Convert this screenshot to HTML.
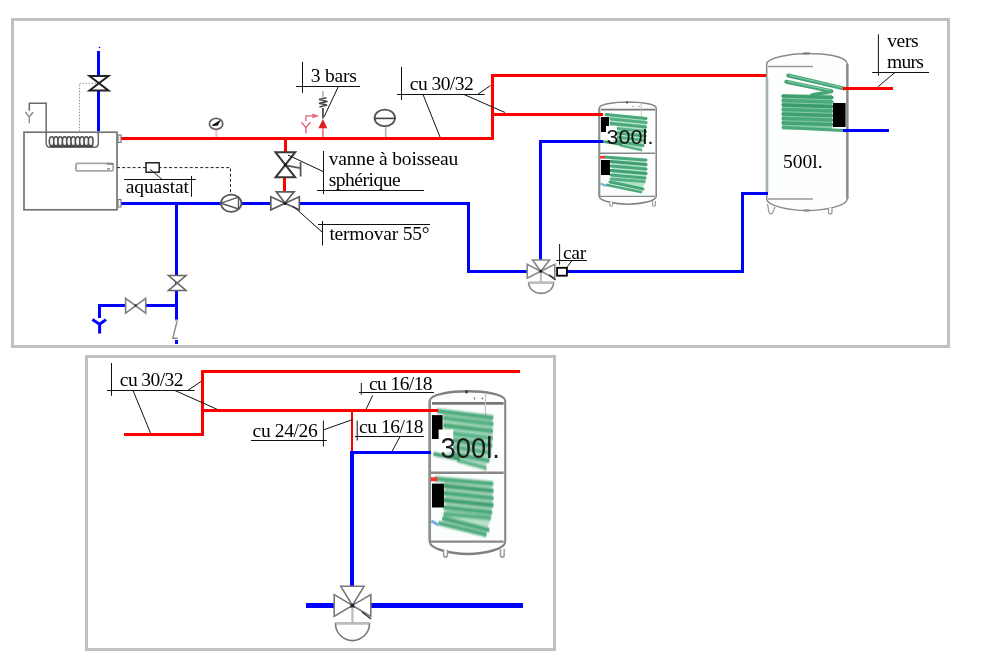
<!DOCTYPE html>
<html><head><meta charset="utf-8">
<style>
html,body{margin:0;padding:0;background:#fff;}
body{width:999px;height:668px;overflow:hidden;}
svg{display:block;will-change:transform;}
text{font-family:"Liberation Serif",serif;font-size:19.5px;fill:#000;}
.s{font-family:"Liberation Sans",sans-serif;font-size:20.5px;fill:#111;}
</style></head><body>
<svg width="999" height="668" viewBox="0 0 999 668">
<defs>
<filter id="bl" x="-20%" y="-20%" width="140%" height="140%"><feGaussianBlur stdDeviation="0.6"/></filter>
<!-- small tank (300 l) drawn at frame-1 position -->
<g id="tk">
  <path d="M599.3 196.5V108C599.5 104 615 102 628 102C641 102 656 104 656.2 108V196.5C656 201 641 204.2 628 204.2C615 204.2 599.5 201 599.3 196.5Z" fill="#fcfdfd" stroke="#808080" stroke-width="1.5"/>
  <path d="M599.3 108V196.5" stroke="#8a948f" stroke-width="2"/>
  <path d="M601 109.6H655" stroke="#777" stroke-width="1.6"/>
  <path d="M600 153.2H655" stroke="#888" stroke-width="1.5"/>
  <path d="M600 196.4H655" stroke="#888" stroke-width="1.4"/>
  <path d="M641.3 103V153" stroke="#c4c4c4" stroke-width="0.9"/>
  <circle cx="627" cy="102.4" r="1" fill="#333"/>
  <circle cx="633" cy="106.5" r="0.6" fill="#666"/>
  <circle cx="639" cy="106.5" r="0.6" fill="#666"/>
  <path d="M609.8 201.5V205.4Q611.2 207 612.6 205.4V201.5 M652.6 201V205.4Q654 207 655.4 205.4V201" fill="#fff" stroke="#999" stroke-width="1.1"/>
  <!-- upper coil -->
  <g fill="none" stroke-linecap="round" filter="url(#bl)">
    <path d="M609 115L646 117V143L640 150L618 145L611 139Z" fill="#b5e2cb" stroke="none"/>
    <path d="M606 114.5L646 118.5" stroke="#4aa97a" stroke-width="3"/>
    <path d="M611 119L646 122.5" stroke="#53b083" stroke-width="3.2"/>
    <path d="M611 123.5L646 127" stroke="#4aa97a" stroke-width="3.2"/>
    <path d="M611 128L646 131.5" stroke="#5ab488" stroke-width="3.2"/>
    <path d="M614 132.5L645 136" stroke="#4aa97a" stroke-width="3.2"/>
    <path d="M616 137L644 140.5" stroke="#55b085" stroke-width="3"/>
    <path d="M618 141.5L643 145.5" stroke="#4aa97a" stroke-width="3"/>
    <path d="M621 145.5L641 150" stroke="#5ab488" stroke-width="2.6"/>
    <path d="M603 141.5L621 144.5" stroke="#3e9a6a" stroke-width="2.4"/>
  </g>
  <!-- lower coil -->
  <g fill="none" stroke-linecap="round" filter="url(#bl)">
    <path d="M611 158L646 159.5V182L641 190L612 181Z" fill="#b5e2cb" stroke="none"/>
    <path d="M604 157L646 160" stroke="#4aa97a" stroke-width="3"/>
    <path d="M611 161.5L646 164.5" stroke="#3f9f70" stroke-width="3.2"/>
    <path d="M611 166L646 169" stroke="#4aa97a" stroke-width="3.2"/>
    <path d="M611 170.5L646 173.5" stroke="#3f9f70" stroke-width="3.2"/>
    <path d="M611 175L645 178" stroke="#4aa97a" stroke-width="3.2"/>
    <path d="M611 179L644 181.5" stroke="#55b085" stroke-width="3"/>
    <path d="M610 182L643 189" stroke="#46a574" stroke-width="3"/>
    <path d="M607 185L641 192" stroke="#4aa97a" stroke-width="2.8"/>
  </g>
  <path d="M600.5 183.5L606 186" stroke="#7ab0e8" stroke-width="2"/>
  <rect x="600" y="156" width="5" height="2.5" fill="#f33"/>
  <rect x="601" y="117" width="8" height="15" fill="#000"/>
  <rect x="601" y="160" width="9" height="15" fill="#000"/>
  <rect x="606" y="126" width="11" height="14" fill="#fff"/>
  <rect x="647" y="126" width="7" height="14" fill="#fff"/>
</g>
</defs>

<!-- frames -->
<rect x="12.5" y="19.5" width="936" height="327" fill="none" stroke="#c0c0c0" stroke-width="3"/>
<rect x="86.5" y="356.5" width="468" height="293" fill="none" stroke="#c0c0c0" stroke-width="3"/>

<!-- ========== small tank 1 (300l) ========== -->
<use href="#tk"/>
<!-- ========== big tank 500l ========== -->
<g id="tank2">
  <path d="M766.7 199V64C767 58 790 53.6 806.6 53.6C825 53.6 846.5 56 847.3 64V199C846.5 206 825 210.5 806.6 210.5C790 210.5 767 206 766.7 199Z" fill="#fdfefe" stroke="#8a8a8a" stroke-width="1.5"/>
  <path d="M847.4 64V199" stroke="#8a8a8a" stroke-width="2.4"/>
  <rect x="803" y="52.6" width="7" height="2" rx="1" fill="#777"/>
  <rect x="803" y="209.4" width="7" height="2" rx="1" fill="#888"/>
  <path d="M768 66.5H813 M768 199H813" stroke="#999" stroke-width="1.4"/>
  <path d="M767 77.7V193" stroke="#a3b3ab" stroke-width="2.6"/>
  <path d="M767.5 204L769 212.5Q770.5 215 772.5 213L775 207 M828.5 208V213Q830.3 215 832 213V207.5" fill="#fff" stroke="#999" stroke-width="1.2"/>
  
  <!-- coil -->
  <g fill="none" stroke-linecap="round" filter="url(#bl)">
    <rect x="782" y="94.5" width="50" height="35" fill="#86c9a6" stroke="none"/>
    <path d="M788.3 75.5L843.6 88.4" stroke="#45a474" stroke-width="4"/>
    <path d="M786.3 81.7L831.4 91.1" stroke="#45a474" stroke-width="4"/>
    <path d="M831 91.5L812 95" stroke="#45a474" stroke-width="3.5"/>
    <path d="M790 75.5L842 87.5 M788 81.5L830 90.3" stroke="#9ad6b8" stroke-width="0.8"/>
    <path d="M783 96L832 97.5" stroke="#3f9f70" stroke-width="3.4"/>
    <path d="M783 100.5L832 102" stroke="#4aa97a" stroke-width="3.4"/>
    <path d="M783 105L832 106.5" stroke="#3a9a6a" stroke-width="3.4"/>
    <path d="M783 109.5L832 111" stroke="#4aa97a" stroke-width="3.4"/>
    <path d="M783 114L832 115.5" stroke="#3f9f70" stroke-width="3.4"/>
    <path d="M783 118.5L832 120" stroke="#4aa97a" stroke-width="3.4"/>
    <path d="M783 123L832 124.5" stroke="#45a475" stroke-width="3.4"/>
    <path d="M783 127.5L843 130.5" stroke="#4aa97a" stroke-width="3"/>
  </g>
  <rect x="833" y="103" width="12.6" height="24" fill="#000"/>
</g>
<!-- ========== tank 3 (frame2 300l) ========== -->
<use href="#tk" transform="translate(-365.54 228.88) scale(1.327 1.592)"/>
<text class="s" x="606.6" y="144" textLength="46.8" lengthAdjust="spacingAndGlyphs">300l.</text>
<text class="s" x="440.6" y="458" style="font-size:30px;fill:#1a1a1a" textLength="59.2" lengthAdjust="spacingAndGlyphs">300l.</text>

<!-- ========== FRAME 1 PIPES ========== -->
<g fill="none" stroke-linecap="butt" stroke-linejoin="miter" shape-rendering="crispEdges">
  <!-- red -->
  <path d="M120 138.5H492.5V75.5H766" stroke="#f00" stroke-width="3"/>
  <path d="M493 114.5H603" stroke="#f00" stroke-width="3"/>
  <path d="M843 88.5H893" stroke="#f00" stroke-width="3"/>
  <path d="M285.2 139V152 M284.6 177V191.5" stroke="#f00" stroke-width="3"/>
  <!-- blue -->
  <path d="M98.5 51V131" stroke="#00f" stroke-width="3"/>
  <path d="M120 203.5H468.5V271.5H526.5" stroke="#00f" stroke-width="3"/>
  <path d="M567 271.5H742.5V193.5H767.5" stroke="#00f" stroke-width="3"/>
  <path d="M540.5 259.5V141.5H603" stroke="#00f" stroke-width="3"/>
  <path d="M843 130.5H889" stroke="#00f" stroke-width="3"/>
  <path d="M176.5 203V319.5 M176.5 339.5V343.5" stroke="#00f" stroke-width="3"/>
  <path d="M176 305.8H99.6V318" stroke="#00f" stroke-width="3"/>
</g>
<!-- blue Y drain -->
<path d="M99.6 323V333.5 M92.4 319.6L99.6 324.2L106 319.6" stroke="#00f" stroke-width="3" fill="none"/>
<circle cx="99.5" cy="47.5" r="0.8" fill="#00f"/>
<!-- drain valves -->
<path d="M168.5 275.5H186L168.5 290.5H186Z" fill="#fff" stroke="#666" stroke-width="1.6"/>
<path d="M125.6 298.3V313.2L145.7 298.3V313.2Z" fill="#fff" stroke="#808080" stroke-width="1.6"/><circle cx="135.6" cy="305.8" r="1.2" fill="#444"/>
<path d="M177 321.5L172.8 338.3H177.5" fill="none" stroke="#8a8a8a" stroke-width="1.4"/><rect x="175" y="319.5" width="3.2" height="2" fill="#b8bccc"/>

<!-- top-left valve (vertical hourglass) -->
<path d="M89.5 76H108.5L89.5 90.5H108.5Z" fill="#fff" stroke="#222" stroke-width="2" stroke-linejoin="miter"/>
<!-- dotted line from valve to boiler -->
<path d="M96 83.2H79.5V131" fill="none" stroke="#999" stroke-width="1.1" stroke-dasharray="1.5,1.5"/>

<!-- boiler -->
<rect x="24" y="132.2" width="93" height="77.6" fill="#fff" stroke="#767676" stroke-width="1.7"/>
<!-- Y pipe on top-left -->
<path d="M29.3 110.7V103.2H46.2V143Q46.2 147.2 50 147.2H95Q98.3 147.2 98.3 143V131" fill="none" stroke="#6a6a6a" stroke-width="1.5"/>
<path d="M25.3 112L29.3 117L33.2 112 M29.3 117V123.3" fill="none" stroke="#888" stroke-width="1.3"/>
<!-- coil -->
<rect x="49.5" y="137" width="44" height="9.5" fill="#b8b8b8"/>
<g fill="#f2f2f2" stroke="#505050" stroke-width="1.5">
  <ellipse cx="51.6" cy="141.3" rx="2.3" ry="4.6"/>
  <ellipse cx="56.0" cy="141.3" rx="2.3" ry="4.6"/>
  <ellipse cx="60.3" cy="141.3" rx="2.3" ry="4.6"/>
  <ellipse cx="64.7" cy="141.3" rx="2.3" ry="4.6"/>
  <ellipse cx="69.0" cy="141.3" rx="2.3" ry="4.6"/>
  <ellipse cx="73.3" cy="141.3" rx="2.3" ry="4.6"/>
  <ellipse cx="77.7" cy="141.3" rx="2.3" ry="4.6"/>
  <ellipse cx="82.0" cy="141.3" rx="2.3" ry="4.6"/>
  <ellipse cx="86.4" cy="141.3" rx="2.3" ry="4.6"/>
  <ellipse cx="90.7" cy="141.3" rx="2.3" ry="4.6"/>
  <path d="M50 146.2H93" stroke="#444" stroke-width="1.6"/>
</g>
<!-- connectors -->
<rect x="118" y="135" width="3" height="7.5" fill="#f4f4f4" stroke="#777" stroke-width="1.1"/>
<rect x="118" y="199.5" width="3" height="7.5" fill="#f4f4f4" stroke="#777" stroke-width="1.1"/>
<!-- sensor -->
<rect x="76" y="163.3" width="37.2" height="7.6" rx="1.2" fill="#fff" stroke="#a6a6a6" stroke-width="1.8"/>
<path d="M107 164H113.5" stroke="#808080" stroke-width="1.6"/>
<path d="M107 168.9H110" stroke="#888" stroke-width="1.4"/>
<!-- aquastat dashed -->
<path d="M117 167.6H230.5V194" fill="none" stroke="#222" stroke-width="1" stroke-dasharray="3,2.2"/>
<rect x="146" y="162.8" width="13.2" height="9.4" fill="#fff" stroke="#111" stroke-width="1.4"/>
<path d="M150 169.2L162 179.4" stroke="#222" stroke-width="1"/>
<path d="M124 179.5H195.8 M191.5 176V196.8" stroke="#111" stroke-width="1" fill="none"/>
<text x="125.8" y="193" textLength="63.1" lengthAdjust="spacing">aquastat</text>

<!-- pump -->
<ellipse cx="231.2" cy="203.2" rx="10.2" ry="8.6" fill="#fff" stroke="#555" stroke-width="1.7"/>
<path d="M238.5 197.2L221 203.2L238.5 209 M238.5 196.8V209.5" fill="none" stroke="#555" stroke-width="1.4"/>

<!-- gauge -->
<path d="M216.3 130V137" stroke="#f0c4c4" stroke-width="2"/>
<ellipse cx="216.1" cy="123.9" rx="6.7" ry="5.5" fill="#fff" stroke="#6a6a6a" stroke-width="1.8"/>
<path d="M212.5 125.5L219.5 121.2L217.5 125Z" fill="#111" stroke="#111" stroke-width="1.2"/>

<!-- safety valve -->
<path d="M322.9 128V137" stroke="#e66" stroke-width="1.5"/>
<path d="M318.4 128.2L322.9 119.1L327.3 128.2Z" fill="#dd2020"/>
<path d="M322.9 118.5V108" stroke="#505050" stroke-width="1.8"/>
<path d="M319.5 107L327 105L319 103.2L327.5 101.4L319 99.6L326.5 97.8" fill="none" stroke="#484848" stroke-width="1.5"/>
<path d="M322.9 97.5V91.2" stroke="#999" stroke-width="1.2"/>
<path d="M301.5 122.3L305.9 127.6L310.3 122.3 M305.9 127.6V133.6" fill="none" stroke="#e2687a" stroke-width="1.4"/>
<path d="M305.9 121V115.9H313" fill="none" stroke="#e2687a" stroke-width="1.4"/>
<path d="M312.4 113.5L319.2 115.9L312.4 118.3Z" fill="#e2687a"/>
<!-- 3 bars label -->
<path d="M302.5 62V92.8 M296 86.5H360 M338.4 86.5L324 117" stroke="#111" stroke-width="1" fill="none"/>
<text x="310.8" y="82.4" textLength="46.1" lengthAdjust="spacing">3 bars</text>

<!-- expansion vessel -->
<path d="M385.7 127V137" stroke="#aab" stroke-width="1.5"/>
<ellipse cx="384.8" cy="117.9" rx="10.2" ry="8.3" fill="#fff" stroke="#555" stroke-width="1.8"/>
<path d="M374.5 118.4H395.5" stroke="#444" stroke-width="1.6"/>

<!-- cu 30/32 frame1 -->
<path d="M401.5 67V100 M397 94.5H484.5 M423 94.5L440 137 M464 94.5L505 112.5 M477.5 94.5L490.5 85.5" stroke="#111" stroke-width="1" fill="none"/>
<text x="409.8" y="90" textLength="63.9" lengthAdjust="spacing">cu 30/32</text>

<!-- ball valve (vertical) -->
<path d="M275.4 152.2H295.2L275.6 177.3H295.2Z" fill="#fff" stroke="#3a3a3a" stroke-width="2" stroke-linejoin="miter"/>
<path d="M285.4 165.4L300.5 168.2 M300.6 162V176.4" stroke="#555" stroke-width="1.8" fill="none"/>
<circle cx="285.4" cy="165" r="1.5" fill="#111"/>
<!-- vanne label -->
<path d="M323.5 151V194 M317 190.5H424 M288 155L323 171.5" stroke="#111" stroke-width="1" fill="none"/>
<text x="328.7" y="165" textLength="129.5" lengthAdjust="spacing">vanne à boisseau</text>
<text x="328.7" y="186" textLength="72" lengthAdjust="spacing">sphérique</text>

<!-- termovar 3-way valve -->
<g fill="#fff" stroke="#5e5e5e" stroke-width="1.7" stroke-linejoin="miter">
  <path d="M276.3 191.8H294.1L285 203Z"/>
  <path d="M270.8 196.8V209.8L285 203.2Z"/>
  <path d="M299.3 196.8V209.8L285 203.2Z"/>
</g>
<circle cx="285" cy="203.2" r="1.5" fill="#222"/>
<path d="M322.5 221V245.5 M318 224.5H430 M293 206L322 232" stroke="#111" stroke-width="1" fill="none"/>
<text x="329.4" y="240" textLength="100.2" lengthAdjust="spacing">termovar 55°</text>

<!-- car 3-way valve + actuator -->
<g fill="#fff" stroke="#888" stroke-width="1.6" stroke-linejoin="miter">
  <path d="M532.5 260H549.5L540.8 271.3Z"/>
  <path d="M527.2 264.2V278.3L540.8 271.3Z"/>
  <path d="M554.8 264.2V278.3L540.8 271.3Z"/>
  <path d="M540.8 271.3V282.5" stroke="#bbb" stroke-width="2"/>
  <path d="M528.6 282.6H553.6A12.5 10.8 0 0 1 528.6 282.6Z"/>
  <path d="M528.6 282.6H553.6" stroke="#bbb" stroke-width="2"/>
</g>
<circle cx="540.8" cy="271.3" r="1.5" fill="#222"/>
<path d="M549 275L555.5 280" stroke="#222" stroke-width="1.2"/>
<rect x="557.1" y="267.8" width="9.8" height="7.9" fill="#fff" stroke="#000" stroke-width="1.8"/>
<path d="M559.6 244V264.7 M556.3 260.5H586.9 M572 260.5L567.3 266.7" stroke="#111" stroke-width="1" fill="none"/>
<text x="563" y="259" textLength="23.2" lengthAdjust="spacing">car</text>

<!-- vers murs label -->
<path d="M878.4 34.2V75.7 M872.2 72.5H929 M894.9 72.5L877.9 86.8" stroke="#111" stroke-width="1" fill="none"/>
<text x="887.2" y="47" textLength="31.5" lengthAdjust="spacing">vers</text>
<text x="887" y="68" textLength="36.8" lengthAdjust="spacing">murs</text>


<text x="783" y="168" textLength="39.5" lengthAdjust="spacing">500l.</text>

<!-- ========== FRAME 2 ========== -->
<g fill="none" shape-rendering="crispEdges">
  <path d="M124 434.2H202.6V371.6H520" stroke="#f00" stroke-width="3"/>
  <path d="M202 410.4H437.5" stroke="#f00" stroke-width="2.6"/>
  <path d="M352 411V451" stroke="#f00" stroke-width="2"/>
  <path d="M351 452.6H430.5" stroke="#00f" stroke-width="2.4"/>
  <path d="M351.8 450.5V587" stroke="#00f" stroke-width="4.2"/>
  <path d="M306 605.2H523" stroke="#00f" stroke-width="4.8"/>
</g>
<!-- frame2 3-way valve -->
<g fill="#fff" stroke="#777" stroke-width="1.6" stroke-linejoin="miter">
  <path d="M340.8 586.3H364L352.4 605.4Z"/>
  <path d="M334.2 594.6V616.4L352.4 605.4Z"/>
  <path d="M370.8 594.6V616.4L352.4 605.4Z"/>
  <path d="M352.4 605.4V623.2" stroke="#bbb" stroke-width="2.2"/>
  <path d="M335.5 623.4H369.5A17 17.2 0 0 1 335.5 623.4Z"/>
  <path d="M335.5 623.4H369.5" stroke="#bbb" stroke-width="2.2"/>
</g>
<circle cx="352.4" cy="605.4" r="1.9" fill="#222"/>
<path d="M362 612L371 619" stroke="#333" stroke-width="1.4"/>

<!-- frame2 labels -->
<path d="M111.5 363V395.8 M107 390.5H194.6 M133 390.5L150.5 433 M175 390.5L217.5 409.5 M187.6 390.5L201 381.5" stroke="#111" stroke-width="1" fill="none"/>
<text x="119.8" y="386" textLength="63.7" lengthAdjust="spacing">cu 30/32</text>
<path d="M361.3 383V394.8 M359 392.5H434 M372.7 395.3L366.2 409" stroke="#111" stroke-width="1" fill="none"/>
<text x="368.9" y="390" textLength="63.7" lengthAdjust="spacing">cu 16/18</text>
<path d="M251 440.5H326.8 M323.4 420.6V446.6 M324 429.7L352.5 419.6" stroke="#111" stroke-width="1" fill="none"/>
<text x="252.6" y="437.3" textLength="65.1" lengthAdjust="spacing">cu 24/26</text>
<path d="M357.2 420.6V440.5 M354.9 436.5H423.8 M400 436.5L391.8 452" stroke="#111" stroke-width="1" fill="none"/>
<text x="359.1" y="433" textLength="64.5" lengthAdjust="spacing">cu 16/18</text>

</svg>
</body></html>
